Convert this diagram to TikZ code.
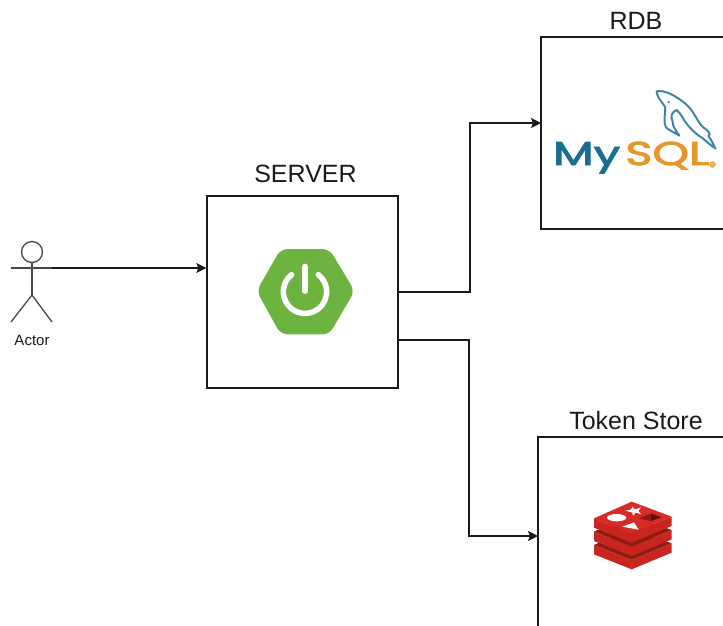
\documentclass[tikz,border=0pt]{standalone}
\usepackage{fontspec}
\usepackage{graphicx}
\setmainfont{Liberation Sans}
\newfontfamily\logofont[FakeBold=2.5]{Poppins}
\usetikzlibrary{arrows.meta}
\definecolor{ink}{HTML}{1A1A1A}
\definecolor{springgreen}{HTML}{6DB33F}
\definecolor{mysqlblue}{HTML}{1A6F90}
\definecolor{dolphin}{HTML}{3F86A3}
\definecolor{mysqlorange}{HTML}{E8962A}
\definecolor{redislight}{HTML}{D92B25}
\definecolor{redismid}{HTML}{C8251F}
\definecolor{redisdark}{HTML}{8E1A12}
\tikzset{
  boxnode/.style={draw=ink,line width=1.3pt,fill=white,minimum width=191pt,minimum height=192pt,inner sep=0pt},
  titlelabel/.style={text=ink,font=\fontsize{25}{28}\selectfont,inner sep=0pt,anchor=base},
  actorlabel/.style={text=ink,font=\fontsize{15}{17}\selectfont,inner sep=0pt,anchor=base},
  actorline/.style={draw=ink!80,line width=1.3pt},
  flow/.style={draw=ink,line width=1.3pt,-{Stealth[length=10pt,width=10pt,inset=2pt]}},
  logotext/.style={inner sep=0pt,anchor=base west,font=\logofont\fontsize{33}{36}\selectfont}
}
\begin{document}
\begin{tikzpicture}[x=1pt,y=-1pt]
\useasboundingbox (0,0) rectangle (723,625);
\clip (0,0) rectangle (723,625);
\fill[white] (0,0) rectangle (723,625);

% boxes
\node[boxnode] (server) at (302.5,292) {};
\node[boxnode] (rdb) at (636.5,133) {};
\node[boxnode] (token) at (633.5,533) {};

% titles
\node[titlelabel] (serverlabel) at (305.5,182) {SERVER};
\node[titlelabel] (rdblabel) at (636,29) {RDB};
\node[titlelabel] (tokenlabel) at (636,429) {Token Store};

% actor
\node[draw=ink!80,line width=1.3pt,circle,minimum size=21pt,inner sep=0pt] (head) at (32,252) {};
\coordinate (armL) at (11,268);
\coordinate (armR) at (52,268);
\coordinate (hip) at (32,295);
\coordinate (footL) at (11,322);
\coordinate (footR) at (52,322);
\draw[actorline] (head.south) -- (hip);
\draw[actorline] (armL) -- (armR);
\draw[actorline] (footL) -- (hip) -- (footR);
\node[actorlabel] (actorlabel) at (32,345) {Actor};

% connectors
\coordinate (serverin) at (server.west |- armR);
\draw[flow] (armR) -- (serverin);
\coordinate (rdbin) at (541,123);
\coordinate (tokenin) at (538,536);
\coordinate (serverlow) at (398,340);
\draw[flow] (server.east) -| (470,123) -- (rdbin);
\draw[flow] (serverlow) -| (469,536) -- (tokenin);

% spring logo
\begin{scope}[shift={(240,235)},scale=1/3]
  \fill[springgreen,rounded corners=7pt] (122,42) -- (268,42) -- (344,168) -- (268,298) -- (122,298) -- (50,168) -- cycle;
  \draw[white,line width=5.5pt,line cap=round] (155,119) arc[start angle=-128,end angle=-412,radius=65];
  \draw[white,line width=6pt,line cap=round] (195,95) -- (195,168);
\end{scope}

% mysql logo
\node[logotext,text=mysqlblue] (mysqlmy) at (553,165) {\resizebox{67pt}{\height}{My}};
\node[logotext,text=mysqlorange] (mysqlsql) at (625,165) {\resizebox{84pt}{\height}{SQL}};
\fill[mysqlorange!75] (712.5,164.5) circle (3.4pt);
\begin{scope}[shift={(540,70)},scale=1/3]
  \draw[dolphin,line width=2pt,line join=round,fill=white]
    (350,64) .. controls (375,58) and (410,80) .. (435,100)
    .. controls (465,125) and (470,155) .. (490,172)
    .. controls (505,182) and (515,195) .. (505,198)
    .. controls (515,210) and (520,225) .. (527,236)
    .. controls (510,225) and (495,210) .. (488,205)
    .. controls (465,190) and (445,170) .. (432,150)
    .. controls (425,135) and (415,125) .. (410,120)
    .. controls (395,125) and (390,140) .. (398,155)
    .. controls (395,165) and (410,185) .. (418,197)
    .. controls (400,185) and (385,180) .. (378,172)
    .. controls (368,150) and (378,130) .. (375,110)
    .. controls (365,95) and (350,80) .. (350,64) -- cycle;
  \fill[dolphin] (386,96) circle (4);
\end{scope}

% redis logo
\begin{scope}[shift={(570,490)},scale=1/3]
  \fill[redisdark] (72,165) -- (185,210) -- (305,160) -- (185,115) -- cycle;
  \fill[redismid] (72,165) -- (72,193) -- (185,238) -- (305,188) -- (305,160) -- (185,210) -- cycle;
  \fill[redisdark] (72,125) -- (185,170) -- (305,120) -- (185,75) -- cycle;
  \fill[redismid] (72,125) -- (72,153) -- (185,198) -- (305,148) -- (305,120) -- (185,170) -- cycle;
  \fill[redismid] (72,85) -- (72,113) -- (185,158) -- (305,108) -- (305,80) -- (185,130) -- cycle;
  \fill[redislight] (72,85) -- (185,130) -- (305,80) -- (185,35) -- cycle;
  \fill[white] (140,83) ellipse[x radius=29,y radius=11];
  \fill[white] (187,50) -- (195,58) -- (213,52) -- (205,63) -- (213,72) -- (197,68) -- (190,76) -- (185,67) -- (166,62) -- (183,59) -- cycle;
  \fill[white] (192,97) -- (206,119) -- (157,110) -- cycle;
  \fill[redisdark] (207,85) -- (243,70) -- (243,93) -- cycle;
  \fill[black!35!redisdark] (243,70) -- (275,82) -- (243,93) -- cycle;
\end{scope}
\end{tikzpicture}
\end{document}
